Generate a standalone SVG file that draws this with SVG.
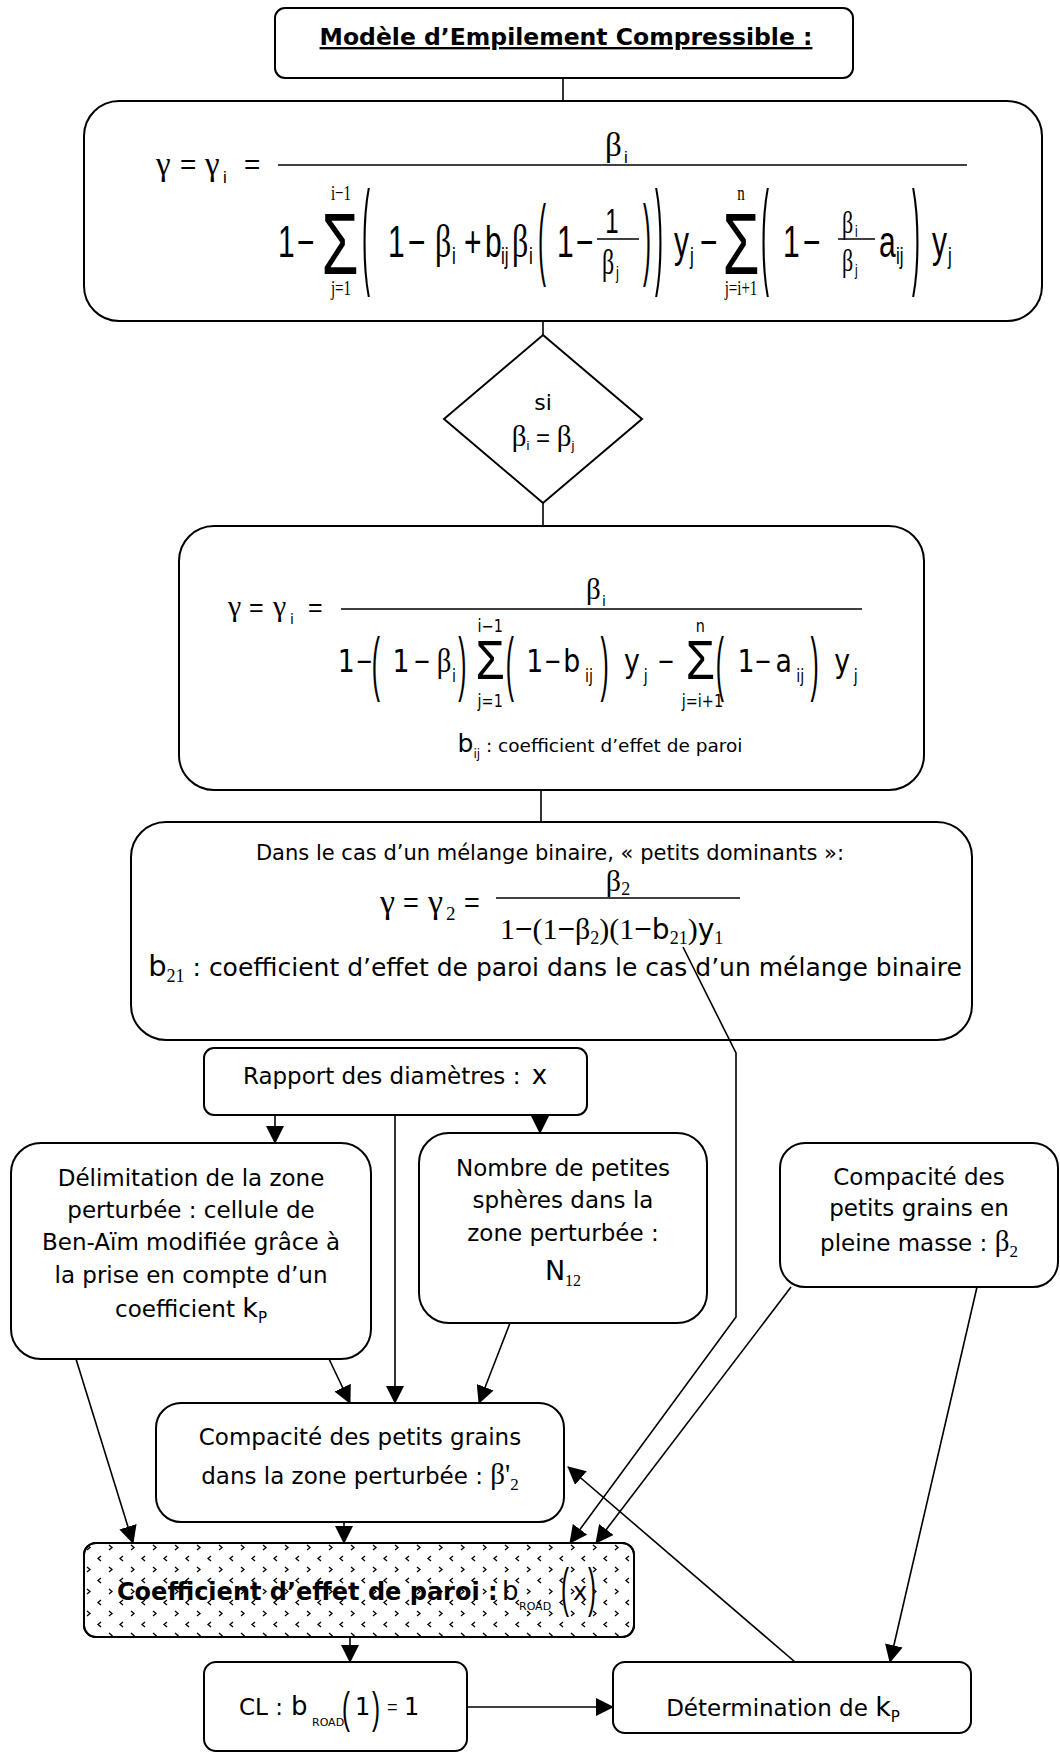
<svg xmlns="http://www.w3.org/2000/svg" width="1060" height="1753" viewBox="0 0 1060 1753">
<style>
.box{fill:#fff;stroke:#000;stroke-width:2}
.c line,.c polyline{fill:none;stroke:#000;stroke-width:1.6}
.a{marker-end:url(#ah)}
.bar{stroke:#000;stroke-width:1.5}
.t{font-family:"DejaVu Sans",Verdana,sans-serif;font-size:23px;fill:#000;text-anchor:middle}
.tb{font-family:"DejaVu Sans",Verdana,sans-serif;font-weight:bold;font-size:23.5px;fill:#000}
.s{font-family:"Liberation Sans",Arial,sans-serif;fill:#000}
.r{font-family:"Liberation Serif","Times New Roman",serif;fill:#000}
.d{font-family:"DejaVu Sans",Verdana,sans-serif;fill:#000}
.mid{text-anchor:middle}
</style>
<defs>
<marker id="ah" viewBox="0 0 18 18" refX="17" refY="9" markerWidth="18" markerHeight="18" markerUnits="userSpaceOnUse" orient="auto"><path d="M0,0 L18,9 L0,18 z" fill="#000"/></marker>
<pattern id="hatch" width="22" height="22" patternUnits="userSpaceOnUse" x="84" y="1543">
<path d="M3,2 L6,4.5 L3,7 M17,13 L14,15.5 L17,18" fill="none" stroke="#000" stroke-width="1.3"/>
</pattern>
</defs>

<g id="n_title">
<rect class="box" x="275" y="8" width="578" height="70" rx="10"/>
<text class="tb" x="566" y="45" text-anchor="middle" text-decoration="underline">Modèle d’Empilement Compressible :</text>
</g>

<g id="n_formula1">
<rect class="box" x="84" y="101" width="958" height="220" rx="35"/>
<text class="r" x="156" y="175" font-size="33">γ</text>
<text class="s" x="180" y="174" font-size="28">=</text>
<text class="r" x="205" y="175" font-size="33">γ</text>
<text class="s" x="223" y="183" font-size="17">i</text>
<text class="s" x="244" y="174" font-size="28">=</text>
<line class="bar" x1="278" y1="165" x2="967" y2="165"/>
<text class="r" x="605" y="156" font-size="33">β</text>
<text class="s" x="624" y="163" font-size="17">i</text>
<g transform="matrix(1,0,0,1.45,0,-115.65)">
<text class="s" x="278" y="257" font-size="30">1</text>
<text class="s" x="297" y="257" font-size="30">−</text>
<text class="s mid" x="340" y="268.5" font-size="60">Σ</text>
<text class="r mid" x="341" y="217.5" font-size="15">i−1</text>
<text class="r mid" x="341" y="283" font-size="15">j=1</text>
<text class="s" font-size="24" transform="translate(362,268.3) scale(1,3.37)">(</text>
<text class="s" x="388" y="257" font-size="30">1</text>
<text class="s" x="408" y="257" font-size="30">−</text>
<text class="r" x="435" y="257" font-size="32">β</text>
<text class="s" x="452" y="262" font-size="17">i</text>
<text class="s" x="464" y="257" font-size="30">+</text>
<text class="s" x="485" y="257" font-size="30">b</text>
<text class="s" x="501" y="262" font-size="17">ij</text>
<text class="r" x="512" y="257" font-size="32">β</text>
<text class="s" x="529" y="262" font-size="17">i</text>
<text class="s" font-size="24" transform="translate(538,264.7) scale(1,2.57)">(</text>
<text class="s" x="557" y="257" font-size="30">1</text>
<text class="s" x="576" y="257" font-size="30">−</text>
<text class="s mid" x="612" y="240.4" font-size="24">1</text>
<line x1="597" y1="244.6" x2="639" y2="244.6" stroke="#000" stroke-width="1"/>
<text class="r" x="602" y="268.7" font-size="24">β</text>
<text class="s" x="616" y="272" font-size="13">j</text>
<text class="s" font-size="24" transform="translate(643,264.7) scale(1,2.57)">)</text>
<text class="s" font-size="24" transform="translate(655,268.3) scale(1,3.37)">)</text>
<text class="s" x="674" y="257" font-size="30">y</text>
<text class="s" x="690" y="262" font-size="17">j</text>
<text class="s" x="700" y="257" font-size="30">−</text>
<text class="s mid" x="741" y="268.5" font-size="60">Σ</text>
<text class="r mid" x="741" y="217.5" font-size="15">n</text>
<text class="r mid" x="741" y="283" font-size="15">j=i+1</text>
<text class="s" font-size="24" transform="translate(761,268.3) scale(1,3.37)">(</text>
<text class="s" x="783" y="257" font-size="30">1</text>
<text class="s" x="803" y="257" font-size="30">−</text>
<text class="r" x="842" y="240.4" font-size="22">β</text>
<text class="s" x="855" y="243.5" font-size="12">i</text>
<line x1="838" y1="244.6" x2="875" y2="244.6" stroke="#000" stroke-width="1"/>
<text class="r" x="842" y="266.5" font-size="22">β</text>
<text class="s" x="855" y="270" font-size="12">j</text>
<text class="s" x="879" y="257" font-size="30">a</text>
<text class="s" x="896" y="262" font-size="17">ij</text>
<text class="s" font-size="24" transform="translate(912,268.3) scale(1,3.37)">)</text>
<text class="s" x="932" y="257" font-size="30">y</text>
<text class="s" x="948" y="262" font-size="17">j</text>
</g>
</g>

<g id="n_condition">
<polygon class="box" points="543,335 642,419 543,503 444,419"/>
<text class="t" x="543" y="410" style="font-size:22px">si</text>
<text class="s mid" x="543" y="446" font-size="24"><tspan class="r" font-size="29">β</tspan><tspan font-size="13" dy="4">i</tspan><tspan dy="-4"> = </tspan><tspan class="r" font-size="29">β</tspan><tspan font-size="13" dy="4">j</tspan></text>
</g>

<g id="n_formula2">
<rect class="box" x="179" y="526" width="745" height="264" rx="35"/>
<text class="r" x="228" y="616" font-size="30">γ</text>
<text class="s" x="249" y="616" font-size="25">=</text>
<text class="r" x="273" y="616" font-size="30">γ</text>
<text class="d" x="290" y="624" font-size="14">i</text>
<text class="s" x="308" y="616" font-size="25">=</text>
<line class="bar" x1="341" y1="609" x2="862" y2="609"/>
<text class="r" x="586" y="599" font-size="29">β</text>
<text class="d" x="602" y="606" font-size="14">i</text>
<g transform="matrix(1.03,0,0,1.2,-16.53,-122.4)">
<text class="d" x="344" y="662" font-size="26">1</text>
<text class="s" x="362" y="662" font-size="26">−</text>
<text class="s" font-size="24" transform="translate(377,674.6) scale(1,2.44)">(</text>
<text class="d" x="397" y="662" font-size="26">1</text>
<text class="s" x="418" y="662" font-size="26">−</text>
<text class="r" x="440" y="662" font-size="28">β</text>
<text class="d" x="455" y="670" font-size="14">i</text>
<text class="s" font-size="24" transform="translate(461,674.6) scale(1,2.44)">)</text>
<text class="s mid" x="492" y="668" font-size="46">Σ</text>
<text class="d mid" x="492" y="629" font-size="14">i−1</text>
<text class="d mid" x="492" y="691" font-size="14">j=1</text>
<text class="s" font-size="24" transform="translate(507,674.6) scale(1,2.44)">(</text>
<text class="d" x="527" y="662" font-size="26">1</text>
<text class="s" x="545" y="662" font-size="26">−</text>
<text class="d" x="563" y="662" font-size="26">b</text>
<text class="d" x="584" y="670" font-size="14">ij</text>
<text class="s" font-size="24" transform="translate(599,674.6) scale(1,2.44)">)</text>
<text class="d" x="622" y="662" font-size="26">y</text>
<text class="d" x="641" y="670" font-size="14">j</text>
<text class="s" x="655" y="662" font-size="26">−</text>
<text class="s mid" x="696" y="668" font-size="46">Σ</text>
<text class="d mid" x="696" y="629" font-size="14">n</text>
<text class="d mid" x="698" y="691" font-size="14">j=i+1</text>
<text class="s" font-size="24" transform="translate(711,674.6) scale(1,2.44)">(</text>
<text class="d" x="732" y="662" font-size="26">1</text>
<text class="s" x="749" y="662" font-size="26">−</text>
<text class="d" x="769" y="662" font-size="26">a</text>
<text class="d" x="789" y="670" font-size="14">ij</text>
<text class="s" font-size="24" transform="translate(803,674.6) scale(1,2.44)">)</text>
<text class="d" x="826" y="662" font-size="26">y</text>
<text class="d" x="845" y="670" font-size="14">j</text>
</g>
<text class="t" x="600" y="752" style="font-size:18.5px"><tspan font-size="25">b</tspan><tspan font-size="12" dy="6">ij</tspan><tspan dy="-6"> : coefficient d’effet de paroi</tspan></text>
</g>

<g id="n_binary">
<rect class="box" x="131" y="822" width="841" height="218" rx="35"/>
<text class="t" x="550" y="860" style="font-size:21px">Dans le cas d’un mélange binaire, « petits dominants »:</text>
<text class="r" x="380" y="913" font-size="34">γ</text>
<text class="s" x="403" y="912" font-size="27">=</text>
<text class="r" x="428" y="913" font-size="34">γ</text>
<text class="r" x="446" y="920" font-size="19">2</text>
<text class="s" x="464" y="912" font-size="27">=</text>
<line class="bar" x1="496" y1="898" x2="740" y2="898"/>
<text class="r mid" x="618" y="891" font-size="30">β<tspan font-size="18" dy="4">2</tspan></text>
<text class="r" x="500" y="939" font-size="30">1<tspan class="s">−</tspan>(1<tspan class="s">−</tspan>β<tspan font-size="18" dy="5">2</tspan><tspan dy="-5">)(1</tspan><tspan class="s">−</tspan><tspan class="d" font-size="28">b</tspan><tspan font-size="18" dy="5">21</tspan><tspan dy="-5">)</tspan><tspan class="d" font-size="28">y</tspan><tspan font-size="18" dy="5">1</tspan></text>
<text class="t" x="555" y="976" style="font-size:25px"><tspan font-size="29">b</tspan><tspan class="r" font-size="18" dy="6">21</tspan><tspan dy="-6"> : coefficient d’effet de paroi dans le cas d’un mélange binaire</tspan></text>
</g>

<g id="n_rapport">
<rect class="box" x="204" y="1048" width="383" height="67" rx="10"/>
<text class="t" x="395" y="1084">Rapport des diamètres : <tspan dx="4" font-size="26">x</tspan></text>
</g>

<g id="n_delimitation">
<rect class="box" x="11" y="1143" width="360" height="216" rx="30"/>
<text class="t" x="191" y="1186">Délimitation de la zone</text>
<text class="t" x="191" y="1218">perturbée : cellule de</text>
<text class="t" x="191" y="1250">Ben-Aïm modifiée grâce à</text>
<text class="t" x="191" y="1283">la prise en compte d’un</text>
<text class="t" x="191" y="1317">coefficient <tspan font-size="27">k</tspan><tspan font-size="15" dy="6">P</tspan></text>
</g>

<g id="n_nombre">
<rect class="box" x="419" y="1133" width="288" height="190" rx="30"/>
<text class="t" x="563" y="1176">Nombre de petites</text>
<text class="t" x="563" y="1208">sphères dans la</text>
<text class="t" x="563" y="1241">zone perturbée :</text>
<text class="t" x="563" y="1280"><tspan font-size="27">N</tspan><tspan class="r" font-size="16" dy="6">12</tspan></text>
</g>

<g id="n_pleine">
<rect class="box" x="780" y="1143" width="278" height="144" rx="25"/>
<text class="t" x="919" y="1185">Compacité des</text>
<text class="t" x="919" y="1216">petits grains en</text>
<text class="t" x="919" y="1251">pleine masse : <tspan class="r" font-size="29">β</tspan><tspan class="r" font-size="17" dy="6">2</tspan></text>
</g>

<g id="n_zone">
<rect class="box" x="156" y="1403" width="408" height="119" rx="25"/>
<text class="t" x="360" y="1445">Compacité des petits grains</text>
<text class="t" x="360" y="1484">dans la zone perturbée : <tspan class="r" font-size="29">β'</tspan><tspan class="r" font-size="17" dy="6">2</tspan></text>
</g>

<g id="n_coefficient">
<rect class="box" x="84" y="1543" width="550" height="94" rx="12"/>
<rect x="84" y="1543" width="550" height="94" rx="12" fill="url(#hatch)" stroke="#000" stroke-width="2"/>
<text class="tb" x="117" y="1600" style="font-size:24px">Coefficient d’effet de paroi :</text>
<text class="d" x="502" y="1600" font-size="26">b</text>
<text class="d" x="519" y="1610" font-size="11">ROAD</text>
<text class="s" font-size="24" transform="translate(561,1605.8) scale(1,2.22)">(</text>
<text class="d" x="573" y="1600" font-size="24">x</text>
<text class="s" font-size="24" transform="translate(588,1605.8) scale(1,2.22)">)</text>
</g>

<g id="n_cl">
<rect class="box" x="204" y="1662" width="263" height="89" rx="12"/>
<text class="d" x="239" y="1715" font-size="23">CL :</text>
<text class="d" x="291" y="1715" font-size="26">b</text>
<text class="d" x="312" y="1726" font-size="11">ROAD</text>
<text class="s" font-size="24" transform="translate(342,1722.6) scale(1,1.87)">(</text>
<text class="d" x="355" y="1715" font-size="24">1</text>
<text class="s" font-size="24" transform="translate(372,1722.6) scale(1,1.87)">)</text>
<text class="s" x="387" y="1713" font-size="18">=</text>
<text class="d" x="404" y="1715" font-size="24">1</text>
</g>

<g id="n_determination">
<rect class="box" x="613" y="1662" width="358" height="71" rx="12"/>
<text class="t" x="783" y="1716">Détermination de <tspan font-size="27">k</tspan><tspan font-size="15" dy="6">P</tspan></text>
</g>

<g id="connectors" class="c">
<line x1="563" y1="78" x2="563" y2="101"/>
<line x1="543" y1="321" x2="543" y2="335"/>
<line x1="543" y1="503" x2="543" y2="526"/>
<line x1="541" y1="790" x2="541" y2="822"/>
<line class="a" x1="275" y1="1115" x2="275" y2="1143"/>
<line class="a" x1="395" y1="1115" x2="395" y2="1403"/>
<line class="a" x1="540" y1="1115" x2="540" y2="1133"/>
<line class="a" x1="329" y1="1359" x2="350" y2="1403"/>
<line class="a" x1="510" y1="1323" x2="479" y2="1403"/>
<line class="a" x1="76" y1="1359" x2="133" y2="1543"/>
<line class="a" x1="344" y1="1522" x2="344" y2="1543"/>
<polyline class="a" points="683,947 736,1053 736,1317 570,1543"/>
<line class="a" x1="791" y1="1287" x2="596" y2="1543"/>
<line class="a" x1="977" y1="1287" x2="890" y2="1662"/>
<line class="a" x1="795" y1="1662" x2="568" y2="1467"/>
<line class="a" x1="350" y1="1637" x2="350" y2="1662"/>
<line class="a" x1="467" y1="1707" x2="613" y2="1707"/>
</g>
</svg>
